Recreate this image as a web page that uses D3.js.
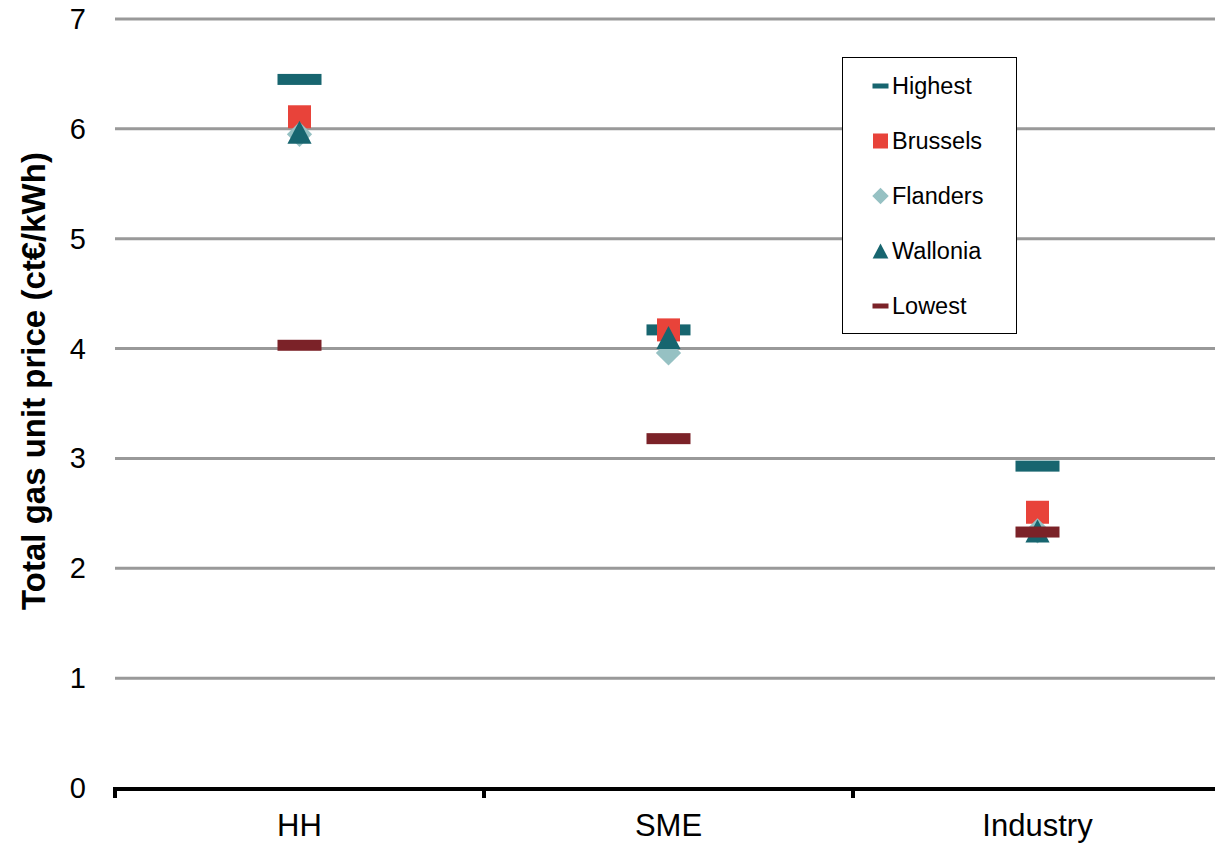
<!DOCTYPE html>
<html><head><meta charset="utf-8">
<script src="https://cdn.jsdelivr.net/npm/d3@7/dist/d3.min.js"></script>
<style>body{margin:0;background:#fff}svg{display:block;font-family:"Liberation Sans",Arial,sans-serif}</style>
</head><body><svg id="c" width="1215" height="845"></svg>
<script>
const categories = ["HH", "SME", "Industry"];
const highest  = [6.45, 4.17, 2.93];
const brussels = [6.11, 4.17, 2.51];
const flanders = [5.95, 3.96, 2.34];
const wallonia = [5.97, 4.10, 2.34];
const lowest   = [4.03, 3.18, 2.33];
const yTicks = [0,1,2,3,4,5,6,7];
const seriesNames = ["Highest","Brussels","Flanders","Wallonia","Lowest"];

const svg = d3.select("#c");
const x = d3.scaleBand().domain(categories).range([115, 1222]);
const y = d3.scaleLinear().domain([0, 7]).range([788, 19]);

const seriesVals = [highest, brussels, flanders, wallonia, lowest];
const colors = ["#17656F","#E8433A","#96C1C3","#17656F","#7B2228"];
const shapes = ["dash","square","diamond","triangle","dash"];
const series = seriesNames.map((n,i)=>({name:n, vals:seriesVals[i], color:colors[i], shape:shapes[i]}));

// gridlines
svg.append("g").selectAll("line").data(yTicks.filter(d=>d>0)).join("line")
  .attr("x1",115).attr("x2",1215).attr("y1",d=>y(d)).attr("y2",d=>y(d))
  .attr("stroke","#999").attr("stroke-width",3);

// y labels
svg.append("g").selectAll("text").data(yTicks).join("text")
  .attr("x",86).attr("y",d=>y(d)+10).attr("text-anchor","end")
  .attr("font-size",29).attr("fill","#000").text(d=>d);

// x axis
const xAxis = d3.axisBottom(x).tickSize(0).tickPadding(0);
const gx = svg.append("g").attr("transform","translate(0,788)").call(xAxis);
gx.select(".domain").remove();
gx.selectAll("text").attr("font-size",31).attr("fill","#000")
  .attr("font-family","Liberation Sans, Arial, sans-serif").attr("dy",null).attr("y",48);
svg.append("line").attr("x1",115).attr("x2",1215).attr("y1",789).attr("y2",789)
  .attr("stroke","#000").attr("stroke-width",4);
const bounds = categories.map(c=>x(c)).concat([x(categories[2])+x.bandwidth()]);
svg.append("g").selectAll("line").data(bounds.filter(b=>b<1215)).join("line")
  .attr("x1",d=>d).attr("x2",d=>d).attr("y1",787).attr("y2",798)
  .attr("stroke","#000").attr("stroke-width",4);

// y title
svg.append("text").attr("transform","translate(45,381) rotate(-90)")
  .attr("text-anchor","middle").attr("font-size",33).attr("font-weight","bold")
  .text("Total gas unit price (ct€/kWh)");

function drawMarker(g, shape, color, cx, cy, s, dw, dh) {
  if (shape==="dash") {
    g.append("rect").attr("x",cx-dw/2).attr("y",cy-dh/2).attr("width",dw).attr("height",dh).attr("fill",color);
  } else if (shape==="square") {
    g.append("rect").attr("x",cx-s/2).attr("y",cy-s/2).attr("width",s).attr("height",s).attr("fill",color);
  } else if (shape==="diamond") {
    const h=s*0.55;
    g.append("path").attr("d",`M${cx},${cy-h}L${cx+h},${cy}L${cx},${cy+h}L${cx-h},${cy}Z`).attr("fill",color);
  } else if (shape==="triangle") {
    const h=s/2;
    g.append("path").attr("d",`M${cx},${cy-h}L${cx+h*1.05},${cy+h}L${cx-h*1.05},${cy+h}Z`).attr("fill",color);
  }
}

const mg = svg.append("g");
series.forEach(s=>{
  categories.forEach((c,i)=>{
    drawMarker(mg, s.shape, s.color, x(c)+x.bandwidth()/2, y(s.vals[i]), 23, 44, 11);
  });
});

// legend
const lg = svg.append("g");
lg.append("rect").attr("x",842.5).attr("y",57.5).attr("width",174).attr("height",276)
  .attr("fill","#fff").attr("stroke","#000").attr("stroke-width",1);
series.forEach((s,i)=>{
  const cy = 86 + i*55;
  drawMarker(lg, s.shape, s.color, 880.5, cy, 15, 16, 5);
  lg.append("text").attr("x",892).attr("y",cy+8).attr("font-size",23.5).text(s.name);
});
</script></body></html>
